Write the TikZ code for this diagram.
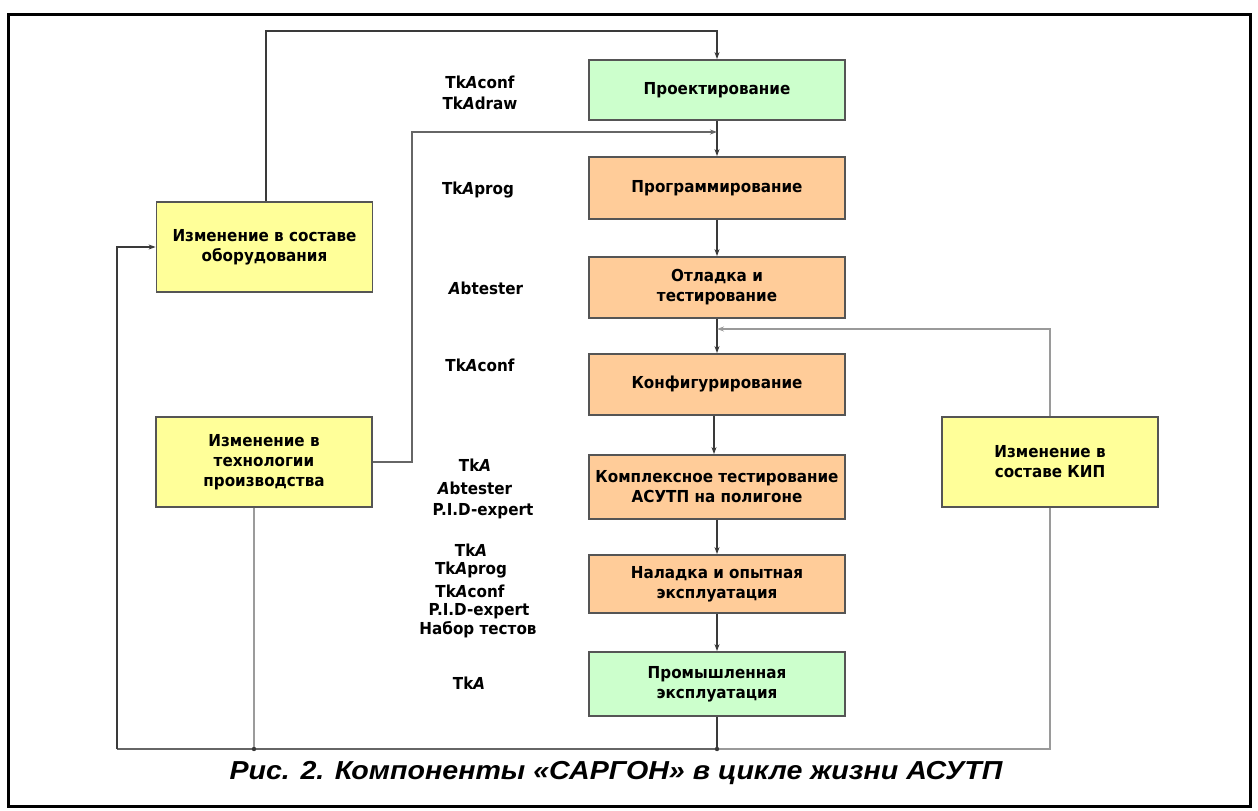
\documentclass[tikz,border=0pt]{standalone}
\usepackage{fontspec}
\setmainfont{DejaVu Sans}[FakeStretch=0.92]
\newfontfamily\capfont{Liberation Sans}[FakeStretch=1.1]
\usetikzlibrary{arrows.meta,calc}
\definecolor{boxline}{HTML}{555555}
\definecolor{greenfill}{HTML}{CCFFCC}
\definecolor{orangefill}{HTML}{FFCC99}
\definecolor{yellowfill}{HTML}{FFFF99}
\definecolor{connc}{HTML}{3A3A3A}
\definecolor{gconnc}{HTML}{666666}
\definecolor{kconnc}{HTML}{9A9A9A}
\newcommand{\tkA}{Tk\textit{A}}
\newcommand{\abA}{\textit{A}}
\tikzset{
  boxtext/.style={font=\bfseries\fontsize{16.5bp}{20bp}\selectfont},
  stage/.style={draw=boxline, line width=1.8bp, minimum width=256bp, inner sep=0pt, align=center, boxtext},
  change/.style={draw=boxline, line width=1.8bp, fill=yellowfill, minimum width=216bp, minimum height=90bp, inner sep=0pt, align=center, boxtext},
  tool/.style={inner sep=0pt, align=center, boxtext},
  conn/.style={draw=connc, line width=1.3bp},
  gconn/.style={draw=gconnc, line width=1.3bp},
  kconn/.style={draw=kconnc, line width=1.3bp},
  arr/.style={-{Stealth[length=7bp,width=5bp]}}
}
\begin{document}
\begin{tikzpicture}[x=1bp,y=-1bp]
\useasboundingbox (0,0) rectangle (1258,811);
\draw[line width=3bp] (8,15) rectangle (1250,806);

% stages
\node[stage, fill=greenfill,  minimum height=60bp] (proekt)  at (717,90)    {Проектирование};
\node[stage, fill=orangefill, minimum height=62bp] (prog)    at (717,188)   {Программирование};
\node[stage, fill=orangefill, minimum height=61bp] (otlad)   at (717,287.5) {Отладка и\\тестирование};
\node[stage, fill=orangefill, minimum height=61bp] (konfig)  at (717,384.5) {Конфигурирование};
\node[stage, fill=orangefill, minimum height=64bp] (komplex) at (717,487)   {Комплексное тестирование\\АСУТП на полигоне};
\node[stage, fill=orangefill, minimum height=58bp] (nalad)   at (717,584)   {Наладка и опытная\\эксплуатация};
\node[stage, fill=greenfill,  minimum height=64bp] (prom)    at (717,684)   {Промышленная\\эксплуатация};

% change boxes
\node[change] (oborud) at (264.5,247) {Изменение в составе\\оборудования};
\node[change] (tech)   at (264,462)   {Изменение в\\технологии\\производства};
\node[change] (kip)    at (1050,462)  {Изменение в\\составе КИП};

% tool labels
\node[tool] (l1a) at (480,82)  {\tkA conf};
\node[tool] (l1b) at (480,103) {\tkA draw};
\node[tool] (l2)  at (478,190) {\tkA prog};
\node[tool] (l3)  at (486,288) {\abA btester};
\node[tool] (l4)  at (480,365) {\tkA conf};
\node[tool] (l5a) at (475,465) {\tkA};
\node[tool] (l5b) at (475,488) {\abA btester};
\node[tool] (l5c) at (483,511) {P.I.D-expert};
\node[tool] (l6a) at (471,550) {\tkA};
\node[tool] (l6b) at (471,570) {\tkA prog};
\node[tool] (l6c) at (470,591) {\tkA conf};
\node[tool] (l6d) at (479,611) {P.I.D-expert};
\node[tool] (l6e) at (478,630) {Набор тестов};
\node[tool] (l7)  at (469,683) {\tkA};

% helper coordinates
\coordinate (j1) at (717,132);
\coordinate (c412) at (412,132);
\coordinate (j2) at (717,329);
\coordinate (b1) at (717,749);
\coordinate (b2) at (254,749);
\coordinate (bL) at (117,749);

% main chain
\draw[conn,arr] (proekt.south) -- (prog.north);
\draw[conn,arr] (prog.south) -- (otlad.north);
\draw[conn,arr] (otlad.south) -- (konfig.north);
\draw[conn,arr] ([xshift=-3bp]konfig.south) -- ([xshift=-3bp]komplex.north);
\draw[conn,arr] (komplex.south) -- (nalad.north);
\draw[conn,arr] (nalad.south) -- (prom.north);
\draw[conn] (prom.south) -- (b1);

% feedback loops
\draw[conn,arr] ([xshift=1.5bp]oborud.north) -- ++(0,-170) -| (proekt.north);
\draw[gconn,arr] (tech.east) -| (c412) -- (j1);
\draw[kconn,arr] (kip.north) |- (j2);
\draw[kconn] (kip.south) |- (b1);
\draw[gconn] (b1) -- (bL);
\draw[conn,arr] (bL) |- (oborud.west);
\draw[gconn] ([xshift=-10bp]tech.south) -- (b2);
\fill[connc] (b1) circle (2.2bp);
\fill[connc] (b2) circle (2.2bp);

% caption
\node[font=\capfont\bfseries\itshape\fontsize{26bp}{30bp}\selectfont, inner sep=0pt] (cap) at (616,773) {Рис. 2. Компоненты «САРГОН» в цикле жизни АСУТП};
\end{tikzpicture}
\end{document}
